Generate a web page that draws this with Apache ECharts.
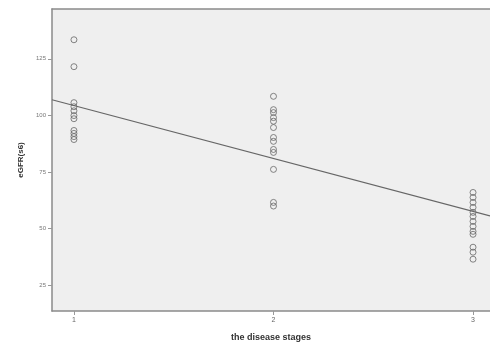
<!DOCTYPE html>
<html><head><meta charset="utf-8">
<script src="https://cdn.jsdelivr.net/npm/echarts@6/dist/echarts.min.js"></script>
<style>html,body{margin:0;padding:0;background:#fff}#c{width:490px;height:347px}</style>
</head><body><div id="c"></div>
<script>
const stages = [1, 2, 3];
const stage1 = [133.4, 121.5, 105.6, 103.8, 102, 99.9, 98.5, 93.3, 92, 90.6, 89.3];
const stage2 = [108.4, 102.5, 101.2, 99, 97.4, 94.6, 90.2, 88.5, 84.9, 83.6, 76.1, 61.5, 59.9];
const stage3 = [65.9, 63.7, 61.5, 59.3, 57.1, 55.3, 53.1, 50.9, 48.7, 47.4, 41.7, 39.5, 36.4];
const fitX = [0.89, 3.085];
const fitY = [106.9, 55.5];
const yTicks = [25, 50, 75, 100, 125];

const pts = [];
[stage1, stage2, stage3].forEach((arr, i) => arr.forEach(v => pts.push([stages[i], v])));

const chart = echarts.init(document.getElementById('c'));
chart.setOption({
  animation: false,
  grid: {left: 52, top: 9, right: 0, bottom: 35, show: true, backgroundColor: '#efefef', borderWidth: 0},
  xAxis: [{
    type: 'value', min: 0.89, max: 3.085,
    name: 'the disease stages', nameLocation: 'middle', nameGap: 22,
    nameTextStyle: {fontFamily: 'Liberation Sans', fontWeight: 'bold', fontSize: 9, color: '#333'},
    axisLine: {show: true, onZero: false, lineStyle: {color: '#8a8a8a', width: 1.5}},
    axisTick: {show: true, customValues: stages, length: 4, lineStyle: {color: '#999'}},
    axisLabel: {customValues: stages, fontSize: 7, color: '#666', margin: 6, fontFamily: 'Liberation Sans'},
    splitLine: {show: false}
  }, {
    type: 'value', position: 'top', min: 0.89, max: 3.085,
    axisLine: {show: true, onZero: false, lineStyle: {color: '#8a8a8a', width: 1.5}},
    axisTick: {show: false}, axisLabel: {show: false}, splitLine: {show: false}
  }],
  yAxis: {
    type: 'value', min: 13.5, max: 147,
    name: 'eGFR(s6)', nameLocation: 'middle', nameGap: 26, nameRotate: 90,
    nameTextStyle: {fontFamily: 'Liberation Sans', fontWeight: 'bold', fontSize: 8, color: '#333'},
    axisLine: {show: true, onZero: false, lineStyle: {color: '#8a8a8a', width: 1.5}},
    axisTick: {show: true, customValues: yTicks, length: 4, lineStyle: {color: '#999'}},
    axisLabel: {customValues: yTicks, fontSize: 6, color: '#777', margin: 6, fontFamily: 'Liberation Sans'},
    splitLine: {show: false}
  },
  series: [
    {type: 'scatter', data: pts, symbol: 'circle', symbolSize: 6,
     itemStyle: {color: 'rgba(0,0,0,0)', borderColor: '#666', borderWidth: 1}},
    {type: 'line', data: fitX.map((x, i) => [x, fitY[i]]), symbol: 'none',
     lineStyle: {color: '#666', width: 1.2}}
  ]
});
</script></body></html>
